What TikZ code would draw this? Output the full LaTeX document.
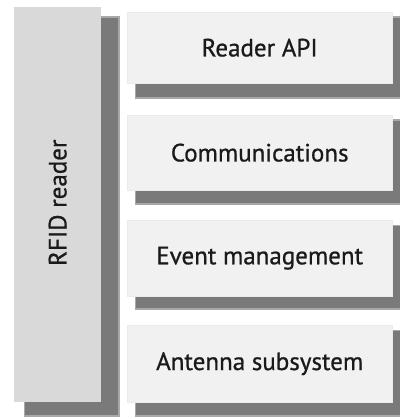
\documentclass[tikz,border=0pt]{standalone}
\usepackage{fontspec}
\setmainfont{PT Sans}
\newfontfamily\labelfont{PT Sans}[FakeBold=0.8]
\usetikzlibrary{backgrounds}
\definecolor{boxfill}{HTML}{F1F1F1}
\definecolor{sidefill}{HTML}{D9D9D9}
\definecolor{shadowcore}{HTML}{7A7A7A}
\definecolor{shadowedge}{HTML}{A8A8A8}
\definecolor{textc}{HTML}{1A1A1A}
\tikzset{
  layerbox/.style={fill=boxfill, draw=white!92!black, line width=0.4pt, anchor=north west,
    minimum width=265pt, inner sep=0pt, text=textc, font=\labelfont\fontsize{25}{27}\selectfont},
  sidebox/.style={fill=sidefill, draw=none, anchor=north west, inner sep=0pt,
    minimum width=87pt, minimum height=395pt},
  sidelabel/.style={rotate=90, text=textc, font=\labelfont\fontsize{25}{27}\selectfont},
}
\newcommand{\myshadow}[5]{%
  \fill[shadowedge] ([xshift=#2pt-1.5pt,yshift=-#3pt+1.5pt]#1.north west) rectangle ([xshift=#4pt+1.5pt,yshift=-#5pt-1.5pt]#1.south east);
  \fill[shadowcore] ([xshift=#2pt,yshift=-#3pt]#1.north west) rectangle ([xshift=#4pt,yshift=-#5pt]#1.south east);
}
\begin{document}
\begin{tikzpicture}[x=1pt,y=-1pt]
\useasboundingbox (0,0) rectangle (399,419);
\node[sidebox] (rfid) at (14,7) {};
\node[sidelabel] (rfidlabel) at ([yshift=2pt]rfid.center) {RFID reader};
\node[layerbox, minimum height=71pt] (api) at (127,12) {Reader API};
\node[layerbox, minimum height=75pt] (comm) at (127,115) {Communications};
\node[layerbox, minimum height=76pt] (event) at (127,220) {Event management};
\node[layerbox, minimum height=77pt] (ant) at (127,325) {Antenna subsystem};
\begin{scope}[on background layer]
  \fill[white] (0,0) rectangle (399,419);
  \myshadow{rfid}{11}{11}{17}{13}
  \myshadow{api}{9}{6}{9}{14}
  \myshadow{comm}{9}{6}{9}{13}
  \myshadow{event}{9}{6}{9}{12}
  \myshadow{ant}{9}{6}{9}{13}
\end{scope}
\end{tikzpicture}
\end{document}
